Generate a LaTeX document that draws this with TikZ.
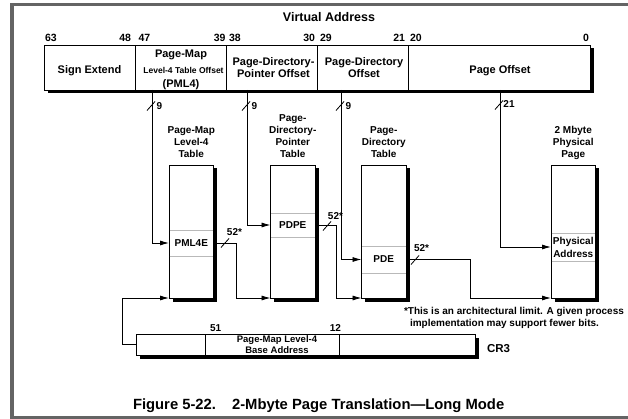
\documentclass[tikz,border=0pt]{standalone}
\usepackage{fontspec}
\setmainfont{Liberation Sans}
\usetikzlibrary{arrows.meta,calc}
\newcommand\fsz[2]{\fontsize{#1}{#2}\selectfont}
\definecolor{framec}{RGB}{100,100,100}
\definecolor{rowc}{RGB}{185,185,185}
\begin{document}
\begin{tikzpicture}[x=1pt,y=-1pt,
  every node/.style={inner sep=0pt,outer sep=0pt},
  shadowed/.style={preaction={fill=black,draw=none,transform canvas={xshift=3.5pt,yshift=-3.5pt}}},
  whole/.style={shadowed,draw,fill=white,line width=0.8pt,anchor=north west},
  fld/.style={draw,line width=0.8pt,anchor=north west},
  tbl/.style={shadowed,draw,fill=white,line width=0.8pt,anchor=north west,minimum width=44.5pt,minimum height=133pt},
  tblrow/.style={anchor=north west,minimum width=44.5pt,font=\bfseries\fsz{10}{13},align=center},
  rowline/.style={draw=rowc,line width=0.8pt},
  ttl/.style={anchor=south,text depth=0pt,align=center,font=\bfseries\fsz{10}{12}},
  lab/.style={anchor=base,align=center,font=\bfseries\fsz{11}{12}},
  bitnum/.style={font=\bfseries\fsz{10.5}{12}},
  small/.style={font=\bfseries\fsz{10}{12}},
  conn/.style={line width=0.8pt},
  arr/.style={conn,-{Latex[length=9pt,width=5pt]}}]
\useasboundingbox (0,0) rectangle (628,419);
\fill[white] (0,0) rectangle (628,419);
% frame
\draw[framec,line width=3.5pt] (628,4.5) -| (12,417.5) -- (628,417.5);

% title
\node[anchor=base,font=\bfseries\fsz{12.5}{14}] (vatitle) at (329,22) {Virtual Address};

% virtual address register
\node[whole,minimum width=546pt,minimum height=45pt] (va) at (44,45) {};
\node[fld,minimum width=91pt,minimum height=45pt] (se) at (44,45) {};
\node[fld,minimum width=91pt,minimum height=45pt] (pml4f) at (135,45) {};
\node[fld,minimum width=91pt,minimum height=45pt] (pdpf) at (226,45) {};
\node[fld,minimum width=91pt,minimum height=45pt] (pdf) at (317,45) {};
\node[fld,minimum width=182pt,minimum height=45pt] (pof) at (408,45) {};

% bit numbers
\node[bitnum,anchor=base west] (b63) at (45,42) {63};
\node[bitnum,anchor=base east] (b48) at (131,42) {48};
\node[bitnum,anchor=base west] (b47) at (138.5,42) {47};
\node[bitnum,anchor=base east] (b39) at (225.5,42) {39};
\node[bitnum,anchor=base west] (b38) at (229,42) {38};
\node[bitnum,anchor=base east] (b30) at (315,42) {30};
\node[bitnum,anchor=base west] (b29) at (320,42) {29};
\node[bitnum,anchor=base east] (b21) at (405,42) {21};
\node[bitnum,anchor=base west] (b20) at (410,42) {20};
\node[bitnum,anchor=base east] (b0) at (589,42) {0};

% field labels
\node[lab] (tse) at (89.5,74) {Sign Extend};
\node[lab] (tpm1) at (181,58) {Page-Map};
\node[anchor=base,font=\bfseries\fsz{8.5}{10}] (tpm2) at (183.5,74) {Level-4 Table Offset};
\node[lab] (tpm3) at (181,88) {(PML4)};
\node[lab] (tpdp) at (273.5,78) {Page-Directory-\\Pointer Offset};
\node[lab] (tpd) at (364,78) {Page-Directory\\Offset};
\node[lab] (tpo) at (500,74) {Page Offset};

% tables
\node[tbl] (pml4t) at (169,165) {};
\node[tbl] (pdpt) at (270.5,165) {};
\node[tbl] (pdt) at (361.5,165) {};
\node[tbl] (pp) at (551,165) {};

\node[ttl] (tt1) at ($(pml4t.north)+(0,-7)$) {Page-Map\\Level-4\\Table};
\node[ttl] (tt2) at ($(pdpt.north)+(0,-7)$) {Page-\\Directory-\\Pointer\\Table};
\node[ttl] (tt3) at ($(pdt.north)+(0,-7)$) {Page-\\Directory\\Table};
\node[ttl] (tt4) at ($(pp.north)+(0,-7)$) {2 Mbyte\\Physical\\Page};

% rows
\node[tblrow,minimum height=26pt] (pml4e) at (169,230) {PML4E};
\node[tblrow,minimum height=24pt] (pdpe) at (270.5,213) {PDPE};
\node[tblrow,minimum height=27pt] (pde) at (361.5,246) {PDE};
\node[tblrow,minimum height=28pt] (pa) at (551,233) {Physical\\Address};
\foreach \r in {pml4e,pdpe,pde,pa}{
  \draw[rowline,shorten <=0.5pt,shorten >=0.5pt] (\r.north west) -- (\r.north east);
  \draw[rowline,shorten <=0.5pt,shorten >=0.5pt] (\r.south west) -- (\r.south east);
}

% CR3
\node[whole,minimum width=339pt,minimum height=21pt] (cr3) at (136,334) {};
\node[fld,minimum width=69pt,minimum height=21pt] (c1) at (136,334) {};
\node[fld,minimum width=134pt,minimum height=21pt] (c2) at (205,334) {};
\node[fld,minimum width=136pt,minimum height=21pt] (c3) at (339,334) {};
\node[anchor=base,align=center,font=\bfseries\fsz{9.5}{11}] (c2t) at (277,353) {Page-Map Level-4\\Base Address};
\node[small,anchor=base west] (b51) at (210,331) {51};
\node[small,anchor=base east] (b12) at (341,331) {12};
\node[anchor=base west,font=\bfseries\fsz{11.5}{13}] (cr3t) at (487,352) {CR3};

% connectors from virtual address
\draw[arr] ([xshift=17pt]pml4f.south west) |- (pml4e.west);
\draw[arr] ([xshift=21pt]pdpf.south west) |- (pdpe.west);
\draw[arr] ([xshift=24pt]pdf.south west) |- (pde.west);
\draw[arr] ([xshift=92pt]pof.south west) |- (pa.west);

% table to table
\draw[arr] (pml4e.east) -- ++(23,0) |- (pdpt.south west);
\draw[arr] (pdpe.east) -- ++(21,0) |- (pdt.south west);
\draw[arr] (pde.east) -- ++(64,0) |- (pp.south west);
\draw[arr] (c1.west) -- ++(-14,0) |- (pml4t.south west);

% width slashes
\foreach \x/\y in {151/106,246/106,340/106,499/105,225/243,327/226,415/260}{
  \draw[conn] (\x,\y) ++(-4,4.5) -- ++(8,-9);
}
\node[small] (n9a) at (159.5,106) {9};
\node[small] (n9b) at (254.5,106) {9};
\node[small] (n9c) at (348.5,106) {9};
\node[small] (n21) at (509,104) {21};
\node[small] (n52a) at (234.5,232) {52*};
\node[small] (n52b) at (335.5,216) {52*};
\node[small] (n52c) at (421.5,248) {52*};

% footnote
\node[small,anchor=base west] (fn1) at (404,314) {*This is an architectural limit. A given process};
\node[small,anchor=base west] (fn2) at (410,326.5) {implementation may support fewer bits.};

% caption
\node[anchor=base west,font=\bfseries\fsz{14.8}{17}] (cap) at (133,409.5) {Figure 5-22.\hspace*{16pt}2-Mbyte Page Translation---Long Mode};
\end{tikzpicture}
\end{document}
